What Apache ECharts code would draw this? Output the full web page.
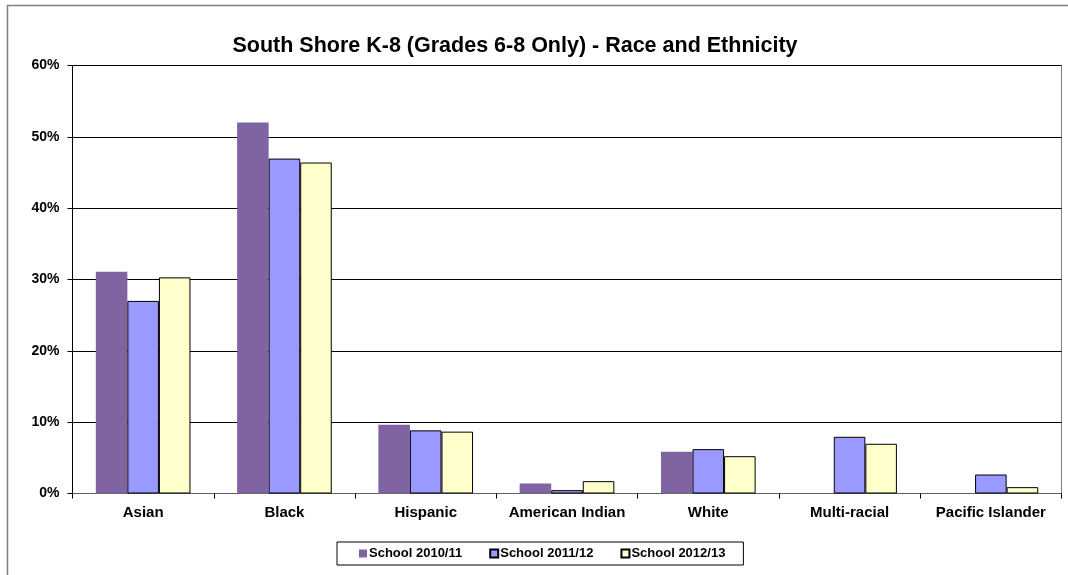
<!DOCTYPE html>
<html>
<head>
<meta charset="utf-8">
<script src="https://cdn.jsdelivr.net/npm/echarts@6/dist/echarts.min.js"></script>
<style>
html,body{margin:0;padding:0;background:#fff;}
#chart{width:1068px;height:575px;}
</style>
</head>
<body>
<div id="chart"></div>
<script>
const titleText = 'South Shore K-8 (Grades 6-8 Only) - Race and Ethnicity';
const categories = ['Asian', 'Black', 'Hispanic', 'American Indian', 'White', 'Multi-racial', 'Pacific Islander'];
const seriesNames = ['School 2010/11', 'School 2011/12', 'School 2012/13'];
const school2010 = [31.1, 52.0, 9.65, 1.4, 5.85, 0, 0];
const school2011 = [27.0, 46.95, 8.85, 0.47, 6.22, 7.95, 2.66];
const school2012 = [30.3, 46.4, 8.67, 1.73, 5.23, 6.97, 0.89];
const yTicks = [0, 10, 20, 30, 40, 50, 60];

const font = '"Liberation Sans", Arial, sans-serif';
const chart = echarts.init(document.getElementById('chart'));
const colors = ['#8064A2', '#9999FF', '#FFFFCC'];
const dataSets = [school2010, school2011, school2012];

chart.setOption({
  animation: false,
  backgroundColor: '#ffffff',
  title: {
    text: titleText,
    left: 510, textAlign: 'center', top: 30,
    textStyle: { fontFamily: font, fontSize: 21.5, fontWeight: 'bold', color: '#000' }
  },
  graphic: [{
    type: 'rect',
    shape: { x: 7.5, y: 5.5, width: 1100, height: 700 },
    style: { fill: 'none', stroke: '#808080', lineWidth: 1.5 },
    silent: true, z: -10
  }],
  grid: { left: 72.5, right: 6.5, top: 65.5, height: 428, containLabel: false, show: true, borderColor: '#808080', borderWidth: 1 },
  legend: {
    data: seriesNames,
    left: 337, top: 542,
    itemWidth: 8, itemHeight: 8, itemGap: 27,
    padding: [5, 18, 5, 22],
    borderColor: '#000', borderWidth: 1,
    icon: 'rect',
    textStyle: { fontFamily: font, fontSize: 13, fontWeight: 'bold', color: '#000', padding: [0, 0, 0, -3] }
  },
  xAxis: {
    type: 'category',
    data: categories,
    axisLine: { lineStyle: { color: '#606060', width: 1 } },
    axisTick: { show: true, interval: 0, alignWithLabel: false, length: 5, lineStyle: { color: '#000' } },
    axisLabel: { interval: 0, fontFamily: font, fontSize: 15, fontWeight: 'bold', color: '#000', margin: 12 }
  },
  yAxis: {
    type: 'value',
    min: yTicks[0], max: yTicks[yTicks.length - 1], interval: 10,
    axisLine: { show: true, lineStyle: { color: '#000', width: 1 } },
    axisTick: { show: true, length: 5, lineStyle: { color: '#000' } },
    axisLabel: { fontFamily: font, fontSize: 14, fontWeight: 'bold', color: '#000', margin: 13, formatter: '{value}%' },
    splitLine: { show: true, lineStyle: { color: '#000', width: 1 } }
  },
  series: seriesNames.map((name, i) => ({
    name: name,
    type: 'bar',
    data: dataSets[i],
    barGap: '0%',
    barCategoryGap: '33%',
    itemStyle: {
      color: colors[i],
      borderColor: i === 0 ? colors[0] : '#000',
      borderWidth: i === 0 ? 0 : 1
    }
  }))
});
</script>
</body>
</html>
